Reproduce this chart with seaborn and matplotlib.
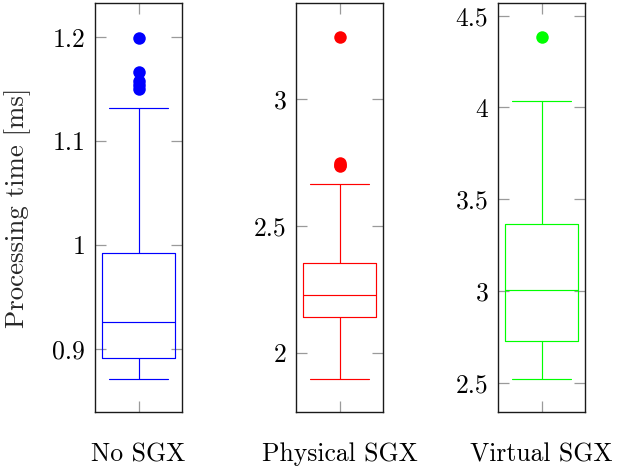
import matplotlib
matplotlib.use("Agg")
import matplotlib.pyplot as plt
import numpy as np
import pandas as pd
import seaborn as sns

# ---- data ----
categories = ["No SGX", "Physical SGX", "Virtual SGX"]
whisker_low = [0.871, 1.898, 2.522]
q1 = [0.891, 2.142, 2.728]
median = [0.926, 2.227, 3.005]
q3 = [0.992, 2.356, 3.365]
whisker_high = [1.132, 2.665, 4.035]
outliers = [
    [1.150, 1.154, 1.158, 1.167, 1.199],
    [2.735, 2.742, 2.750, 3.244],
    [4.382],
]
ytick_values = [[0.9, 1.0, 1.1, 1.2], [2.0, 2.5, 3.0], [2.5, 3.0, 3.5, 4.0, 4.5]]
ytick_labels = [["0.9", "1", "1.1", "1.2"], ["2", "2.5", "3"], ["2.5", "3", "3.5", "4", "4.5"]]
y_limits = [(0.839, 1.233), (1.768, 3.379), (2.342, 4.569)]
colors = ["#0000ff", "#ff0000", "#00ff00"]


def sample_for(i):
    # a sample whose five-number summary and outliers match the values read above
    k = len(outliers[i]) + 1
    return ([whisker_low[i]] + [q1[i]] * k + [median[i]] * k + [q3[i]] * k
            + [whisker_high[i]] + outliers[i])


sns.set_style("white")
plt.rcParams["font.family"] = ["cmr10", "DejaVu Serif"]
plt.rcParams["axes.formatter.use_mathtext"] = True
plt.rcParams["mathtext.fontset"] = "cm"

fig = plt.figure(figsize=(6.17, 4.68), dpi=100)
W, H = 617.0, 468.0
lefts = [95, 296, 498]
width_px = 87
top_px, bottom_px = 3, 412

for i, cat in enumerate(categories):
    ax = fig.add_axes([lefts[i] / W, 1 - bottom_px / H, width_px / W, (bottom_px - top_px) / H])
    vals = sample_for(i)
    df = pd.DataFrame({"cat": [cat] * len(vals), "value": vals})
    c = colors[i]
    sns.boxplot(
        data=df, x="cat", y="value", ax=ax, color=c, fill=False,
        width=0.85, linewidth=0.85,
        flierprops=dict(marker="o", markersize=9, markerfacecolor=c,
                        markeredgecolor=c, markeredgewidth=0),
    )
    # cap widths
    caps = [ln for ln in ax.lines if len(ln.get_xdata()) == 2 and
            np.allclose(np.asarray(ln.get_ydata(), float)[0], np.asarray(ln.get_ydata(), float)[1])
            and abs(np.ptp(np.asarray(ln.get_xdata(), float)) - 0.85) > 1e-6]
    for ln in caps:
        ln.set_xdata([-0.34, 0.34])
    ax.set_xlim(-0.5, 0.5)
    ax.set_ylim(*y_limits[i])
    ax.set_yticks(ytick_values[i])
    ax.set_yticklabels(ytick_labels[i])
    ax.set_xticks([0])
    ax.set_xticklabels([cat])
    ax.set_xlabel("")
    ax.set_ylabel("")
    ax.tick_params(axis="both", which="major", direction="in", length=8, width=0.9,
                   color="#9a9a9a", labelsize=18.5, labelcolor="black",
                   left=True, right=True, top=True, bottom=True)
    ax.tick_params(axis="x", pad=22)
    ax.tick_params(axis="y", pad=7)
    for sp in ax.spines.values():
        sp.set_visible(True)
        sp.set_color("#1a1a1a")
        sp.set_linewidth(1.0)
    if i == 0:
        ax.set_ylabel("Processing time [ms]", fontsize=19.3, va="center")
        ax.yaxis.set_label_coords((18 - lefts[0]) / width_px, 0.5)

fig.savefig("out.png", dpi=100)
